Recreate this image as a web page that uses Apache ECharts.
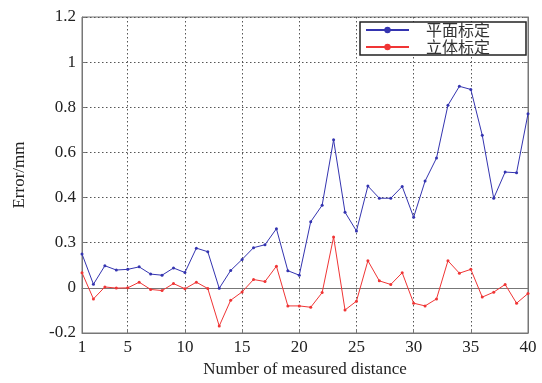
<!DOCTYPE html>
<html><head><meta charset="utf-8">
<script src="https://cdn.jsdelivr.net/npm/echarts@6/dist/echarts.min.js"></script>
<style>html,body{margin:0;padding:0;background:#fff}#c{width:542px;height:383px}</style>
</head><body><div id="c"></div>
<script>
var xValues = [1,2,3,4,5,6,7,8,9,10,11,12,13,14,15,16,17,18,19,20,21,22,23,24,25,26,27,28,29,30,31,32,33,34,35,36,37,38,39,40];
var planar = [0.150,0.016,0.098,0.079,0.082,0.093,0.061,0.056,0.088,0.068,0.176,0.160,-0.002,0.077,0.126,0.178,0.191,0.262,0.076,0.056,0.293,0.366,0.656,0.335,0.252,0.451,0.397,0.397,0.449,0.313,0.473,0.575,0.809,0.893,0.879,0.676,0.397,0.513,0.510,0.771];
var stereo = [0.067,-0.049,0.004,-0.001,0.000,0.025,-0.007,-0.012,0.019,-0.004,0.025,-0.003,-0.169,-0.055,-0.018,0.037,0.028,0.096,-0.080,-0.080,-0.086,-0.021,0.225,-0.098,-0.059,0.120,0.031,0.015,0.067,-0.068,-0.080,-0.049,0.120,0.065,0.082,-0.041,-0.019,0.015,-0.068,-0.025];
var xTicks = [1,5,10,15,20,25,30,35,40];
var yTickValues = [-0.2,0,0.2,0.4,0.6,0.8,1,1.2];
var yTickLabels = ['-0.2','0','0.3','0.4','0.6','0.8','1','1.2'];
var seriesNames = ['平面标定','立体标定'];

function pairs(ys){ return xValues.map(function(x,i){ return [x, ys[i]]; }); }
var serif = '"Liberation Serif","DejaVu Serif",serif';
var chart = echarts.init(document.getElementById('c'));
var gridLine = {show:true, lineStyle:{color:'#555', type:[1.5,2.5], width:1}};
chart.setOption({
  animation:false,
  backgroundColor:'#fff',
  grid:{left:82, right:14, top:17, bottom:50, show:true, borderColor:'#777', borderWidth:1},
  legend:{
    orient:'vertical', left:360, top:22,
    backgroundColor:'#fff', borderColor:'#222', borderWidth:1.5,
    padding:[0,36,0,5], itemGap:1, itemWidth:43, itemHeight:8,
    textStyle:{fontFamily:'"Noto Sans CJK SC",serif', fontSize:16, lineHeight:16, color:'#333', padding:[0,0,0,12]},
    data:seriesNames
  },
  xAxis:[{
    type:'value', min:1, max:40,
    name:'Number of measured distance', nameLocation:'middle', nameGap:27,
    nameTextStyle:{fontFamily:serif, fontSize:17, color:'#222'},
    axisLine:{show:true, onZero:false, lineStyle:{color:'#777'}},
    axisTick:{show:true, inside:true, length:4, customValues:xTicks, lineStyle:{color:'#777'}},
    axisLabel:{customValues:xTicks, fontFamily:serif, fontSize:17, color:'#222', margin:6},
    splitLine:gridLine
  },{
    type:'value', min:1, max:40, position:'top',
    axisLine:{show:true, lineStyle:{color:'#777'}},
    axisTick:{show:true, inside:true, length:4, customValues:xTicks, lineStyle:{color:'#777'}},
    axisLabel:{show:false}, splitLine:{show:false}
  }],
  yAxis:[{
    type:'value', min:-0.2, max:1.2, interval:0.2,
    name:'Error/mm', nameLocation:'middle', nameGap:54,
    nameTextStyle:{fontFamily:serif, fontSize:17, color:'#222'},
    axisLine:{show:true, onZero:false, lineStyle:{color:'#777'}},
    axisTick:{show:true, inside:true, length:4, lineStyle:{color:'#777'}},
    axisLabel:{fontFamily:serif, fontSize:17, color:'#222', margin:6,
      formatter:function(v){ var i=yTickValues.findIndex(function(t){return Math.abs(t-v)<1e-6;}); return i>=0?yTickLabels[i]:''; }},
    splitLine:gridLine
  },{
    type:'value', min:-0.2, max:1.2, interval:0.2, position:'right',
    axisLine:{show:true, lineStyle:{color:'#777'}},
    axisTick:{show:true, inside:true, length:4, lineStyle:{color:'#777'}},
    axisLabel:{show:false}, splitLine:{show:false}
  }],
  series:[
    {name:seriesNames[0], type:'line', data:pairs(planar), symbol:'circle', symbolSize:3,
     itemStyle:{color:'#3434b0'}, lineStyle:{color:'#3434b0', width:1}},
    {name:seriesNames[1], type:'line', data:pairs(stereo), symbol:'circle', symbolSize:3,
     itemStyle:{color:'#f03535'}, lineStyle:{color:'#f03535', width:1}}
  ]
});
</script></body></html>
